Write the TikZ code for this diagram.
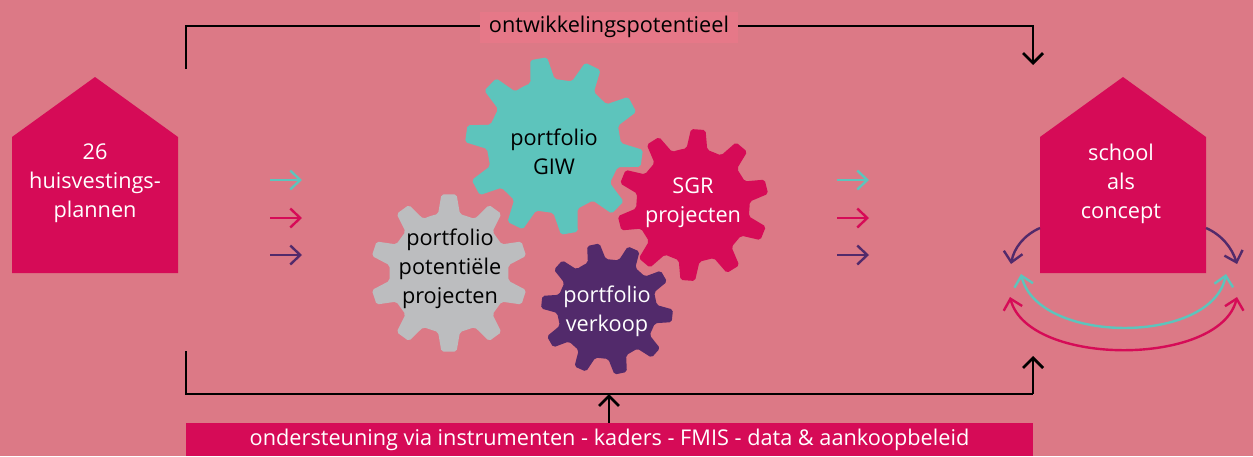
\documentclass[tikz,border=0pt]{standalone}
\usepackage{fontspec}
\setmainfont{Open Sans}
\usetikzlibrary{arrows.meta}
\definecolor{bgc}{HTML}{DC7986}
\definecolor{crim}{HTML}{D60B57}
\definecolor{teal}{HTML}{5DC4BC}
\definecolor{purp}{HTML}{522A6B}
\definecolor{grayg}{HTML}{BCBDBF}
\definecolor{labelbg}{HTML}{E67888}
\tikzset{
  barb/.tip={Straight Barb[length=10pt,width=19pt,line width=2.4pt]},
  chev/.style={line width=2.4pt,-barb},
  twochev/.style={line width=2.4pt,barb-barb},
  flow/.style={line width=2.8pt},
  flowarrow/.style={line width=2.8pt,-{Straight Barb[length=10pt,width=20pt,line width=2.8pt]}},
  house/.style={fill=crim},
  txt/.style={align=center,font=\fontsize{21.7}{29}\selectfont,inner sep=0pt},
}
\newcommand{\gearshape}[6]{%
  \begin{scope}[shift={(#1,#2)}]
  \fill[#6,rounded corners=2pt] ({#5-18}:#4)
    foreach \i in {0,...,9} {
      -- ({#5+36*\i-10.5}:#4) -- ({#5+36*\i-5.5}:#3) -- ({#5+36*\i+5.5}:#3) -- ({#5+36*\i+10.5}:#4)
    } -- cycle;
  \end{scope}}
\begin{document}
\begin{tikzpicture}[x=1pt,y=-1pt]
\useasboundingbox (0,0) rectangle (1253,456);
\fill[bgc] (0,0) rectangle (1253,456);
% houses
\fill[house] (12,137) -- (95,77) -- (178,137) -- (178,273) -- (12,273) -- cycle;
\fill[house] (1040,137) -- (1123,77) -- (1206,137) -- (1206,273) -- (1040,273) -- cycle;
\node[txt,text=white] (hp) at (95,183.5) {26\\huisvestings-\\plannen};
\node[txt,text=white] (sc) at (1121,183.5) {school\\als\\concept};
% named anchors
\coordinate (tl) at (186,69); \coordinate (tlc) at (186,26);
\coordinate (trc) at (1033,26); \coordinate (tr) at (1033,65);
\coordinate (bl) at (186,351); \coordinate (blc) at (186,394);
\coordinate (brc) at (1033,394); \coordinate (br) at (1033,356);
\coordinate (bm) at (609,394);
% bars and labels
\node[fill=labelbg,inner sep=0pt,minimum width=258pt,minimum height=31pt,font=\fontsize{21.7}{24}\selectfont] (ont) at (609,27) {ontwikkelingspotentieel};
\node[fill=crim,text=white,inner sep=0pt,minimum width=847pt,minimum height=33pt,font=\fontsize{21.7}{24}\selectfont] (ond) at (609.5,439.5) {ondersteuning via instrumenten - kaders - FMIS - data \& aankoopbeleid};
% frame
\draw[flow] (tl) -- (tlc) -- (ont.west |- tlc);
\draw[flowarrow] (ont.east |- trc) -- (trc) -- (tr);
\draw[flow] (bl) -- (blc) -- (brc);
\draw[flowarrow] (brc) -- (br);
\draw[flowarrow] (ond.north -| bm) -- (bm);
% left arrows
\foreach \n/\c/\y in {a/teal/180,b/crim/218,c/purp/255}{
  \coordinate (l\n) at (270,\y); \coordinate (m\n) at (302,\y);
  \draw[chev,\c] (l\n) -- (m\n);
  \coordinate (r\n) at (837,\y); \coordinate (s\n) at (869,\y);
  \draw[chev,\c] (r\n) -- (s\n);
}
% gears
\gearshape{554}{146}{89}{67}{-100}{teal}
\gearshape{693}{205}{76}{57}{-86}{crim}
\gearshape{449}{273}{79}{60}{-90}{grayg}
\gearshape{607}{309}{66}{50}{-102}{purp}
\node[txt,text=black] (g1) at (554,152) {portfolio\\GIW};
\node[txt,text=white] (g2) at (693,203) {SGR\\projecten};
\node[txt,text=black] (g3) at (450,269) {portfolio\\potentiële\\projecten};
\node[txt,text=white] (g4) at (607,311) {portfolio\\verkoop};
% right loop arrows
\coordinate (p1) at (1040,228); \coordinate (p2) at (1011,264);
\coordinate (p3) at (1206,228); \coordinate (p4) at (1237,264);
\draw[chev,purp] (p1) .. controls (1024,235) and (1014,248) .. (p2);
\draw[chev,purp] (p3) .. controls (1222,235) and (1232,248) .. (p4);
\coordinate (q1) at (1021,274); \coordinate (q2) at (1226,274);
\draw[twochev,teal] (q1) .. controls (1038,345) and (1212,345) .. (q2);
\coordinate (u1) at (1010,297); \coordinate (u2) at (1237,297);
\draw[twochev,crim] (u1) .. controls (1028,367) and (1220,367) .. (u2);
\end{tikzpicture}
\end{document}
